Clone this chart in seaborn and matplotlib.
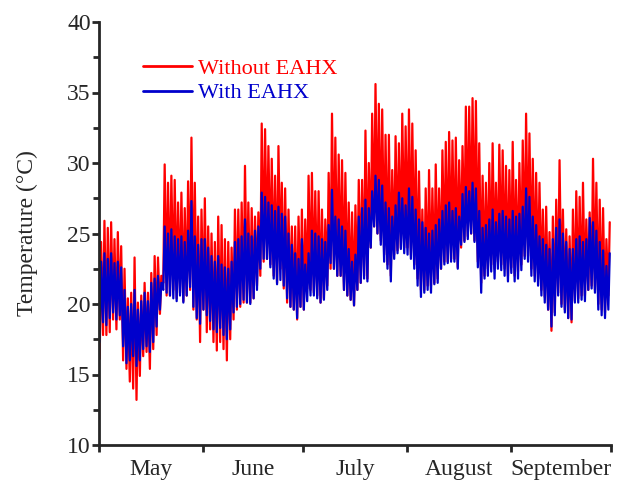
import numpy as np
import pandas as pd
import matplotlib
matplotlib.use("Agg")
import matplotlib.pyplot as plt
import seaborn as sns
from matplotlib.ticker import FixedLocator, MultipleLocator, NullFormatter, FixedFormatter

# ---- data (daily extremes, May 1 .. Sep 30) ----
months = ["May", "June", "July", "August", "September"]
month_days = [31, 30, 31, 31, 30]
series_names = ["Without EAHX", "With EAHX"]

red_max = [24.4, 25.9, 25.4, 25.8, 24.6, 25.1, 24.1, 22.5, 20.4, 20.8,
           23.3, 20.1, 20.6, 21.5, 20.8, 22.2, 23.4, 23.3, 22.0, 29.9,
           28.6, 29.1, 28.8, 27.2, 27.9, 26.8, 28.7, 31.8, 28.6, 26.2,
           26.7, 27.5, 25.5, 25.0, 24.4, 26.2, 25.6, 24.6, 24.4, 24.0,
           26.7, 26.7, 27.2, 29.8, 27.2, 26.8, 26.2, 26.5, 32.8, 32.4,
           31.2, 30.3, 29.1, 31.2, 28.6, 28.2, 26.7, 25.5, 25.5, 26.2,
           26.7, 26.0, 29.1, 29.3, 28.0, 28.0, 26.7, 26.0, 29.3, 33.5,
           31.8, 30.6, 30.2, 29.3, 27.2, 26.5, 27.0, 28.8, 28.8, 32.3,
           30.0, 33.5, 35.6, 34.2, 33.8, 32.0, 32.0, 29.5, 31.9, 31.4,
           33.5, 32.6, 33.8, 32.8, 30.9, 29.4, 26.7, 28.2, 29.5, 28.2,
           29.9, 28.2, 30.9, 31.5, 32.2, 31.6, 31.8, 30.2, 31.2, 34.0,
           34.0, 34.6, 34.4, 31.4, 29.1, 28.6, 30.0, 31.4, 28.6, 31.3,
           30.9, 29.8, 29.5, 31.5, 28.8, 30.0, 31.6, 33.5, 32.1, 30.3,
           29.3, 28.6, 26.7, 26.9, 25.1, 26.2, 27.4, 30.2, 26.7, 25.3,
           24.8, 26.7, 28.0, 27.6, 28.6, 26.0, 26.5, 30.3, 28.6, 27.4,
           26.8, 24.6, 25.8]
red_min = [16.1, 17.8, 17.8, 18.0, 18.9, 18.2, 18.9, 16.0, 15.4, 14.5,
           14.0, 13.2, 14.9, 16.3, 16.6, 15.4, 16.8, 17.8, 19.3, 21.5,
           20.6, 20.6, 21.0, 20.4, 20.8, 20.2, 20.6, 21.0, 19.6, 18.9,
           17.3, 19.6, 18.0, 18.2, 17.3, 16.7, 17.3, 16.8, 16.0, 17.5,
           18.9, 19.6, 19.8, 20.1, 20.1, 20.1, 20.4, 21.3, 22.0, 23.0,
           23.2, 22.8, 22.0, 21.5, 22.5, 21.1, 20.1, 19.8, 19.6, 18.9,
           19.8, 19.6, 21.1, 21.0, 20.8, 20.6, 20.1, 20.4, 21.3, 22.5,
           22.5, 22.0, 22.0, 21.0, 20.6, 20.3, 19.9, 21.0, 21.5, 22.0,
           21.8, 24.0, 25.5, 25.0, 24.5, 23.5, 22.8, 22.0, 23.5, 23.8,
           24.0, 24.0, 24.0, 23.5, 22.8, 21.8, 21.0, 21.0, 21.3, 21.3,
           21.5, 21.8, 22.5, 23.0, 23.0, 23.2, 23.2, 22.6, 24.0, 24.5,
           24.8, 25.0, 24.5, 23.0, 21.5, 22.0, 22.5, 22.8, 22.5, 23.0,
           22.8, 22.5, 22.0, 22.6, 22.0, 22.3, 22.8, 23.4, 23.4, 22.5,
           22.0, 21.8, 21.0, 20.5, 19.6, 18.1, 19.4, 20.8, 20.0, 19.6,
           19.0, 18.7, 20.2, 20.4, 20.6, 20.6, 21.0, 21.3, 21.0, 20.0,
           19.6, 19.4, 20.6]
blue_max = [23.0, 23.6, 23.2, 23.6, 22.9, 23.0, 22.6, 21.0, 19.8, 20.0,
            21.0, 19.6, 20.2, 20.8, 20.2, 21.5, 21.8, 22.0, 21.5, 25.5,
            25.0, 25.3, 24.8, 24.6, 24.8, 24.4, 25.2, 27.3, 24.8, 24.2,
            24.6, 24.6, 24.0, 23.4, 23.0, 23.4, 22.8, 22.6, 22.5, 23.0,
            24.4, 24.6, 24.8, 26.0, 25.0, 24.8, 25.2, 25.5, 27.9, 27.6,
            27.2, 27.0, 26.6, 26.9, 26.4, 26.2, 25.0, 24.2, 23.6, 23.2,
            24.6, 22.8, 23.6, 25.2, 25.0, 24.8, 24.6, 24.4, 25.6, 28.1,
            26.2, 26.0, 25.5, 25.2, 23.9, 23.0, 23.5, 26.2, 26.8, 27.4,
            26.8, 28.0, 29.1, 28.8, 28.4, 27.2, 26.8, 26.2, 27.0, 27.9,
            27.5, 27.0, 28.2, 27.6, 26.7, 26.0, 25.8, 25.4, 25.0, 25.2,
            25.6, 26.0, 26.6, 27.0, 27.2, 26.6, 26.8, 26.2, 27.8, 28.3,
            28.0, 28.6, 28.2, 26.6, 25.4, 25.6, 26.0, 26.7, 25.8, 26.4,
            26.6, 26.2, 26.0, 26.6, 26.2, 26.4, 26.9, 28.2, 27.6, 26.2,
            25.6, 24.8, 24.6, 24.2, 23.9, 24.6, 25.4, 26.0, 25.0, 24.4,
            23.9, 23.9, 24.6, 24.8, 24.4, 24.6, 26.1, 25.8, 25.2, 24.4,
            23.8, 22.7, 23.6]
blue_min = [17.3, 18.7, 18.5, 19.0, 19.4, 18.9, 19.2, 17.0, 15.8, 16.0,
            16.3, 15.6, 16.0, 16.8, 17.0, 16.6, 17.3, 18.4, 19.6, 21.0,
            20.8, 20.6, 20.4, 20.2, 20.6, 20.1, 20.6, 21.2, 19.8, 19.0,
            18.6, 19.6, 19.2, 18.8, 18.2, 18.0, 18.3, 17.8, 17.5, 18.2,
            19.4, 19.8, 20.0, 20.3, 20.1, 20.0, 20.4, 21.0, 22.5, 23.2,
            23.2, 22.6, 21.8, 21.4, 21.7, 21.3, 20.4, 19.8, 19.6, 19.0,
            19.8, 19.6, 20.2, 20.6, 20.6, 20.4, 20.1, 20.3, 21.0, 22.9,
            22.5, 22.0, 22.0, 21.0, 20.6, 20.3, 19.9, 21.0, 21.5, 21.8,
            21.6, 24.0, 25.5, 25.0, 24.2, 23.0, 22.5, 21.6, 23.2, 23.6,
            23.9, 23.6, 23.5, 23.2, 22.5, 21.3, 20.5, 20.8, 21.0, 20.8,
            21.4, 21.5, 22.5, 22.8, 22.9, 23.0, 23.0, 22.5, 24.2, 24.4,
            24.6, 25.0, 24.4, 22.6, 20.8, 21.8, 22.0, 22.3, 21.8, 22.5,
            22.4, 22.0, 21.6, 22.2, 21.6, 21.8, 22.4, 23.2, 23.0, 22.0,
            21.6, 21.3, 20.6, 20.1, 19.6, 18.4, 19.2, 20.6, 19.8, 19.4,
            19.0, 18.9, 20.1, 20.1, 20.3, 20.2, 21.0, 21.1, 20.8, 19.6,
            19.2, 19.0, 19.6]

# ---- build long table: daily minimum early morning, maximum afternoon ----
n_days = len(red_max)
day = np.arange(n_days)
t = np.column_stack([day + 5 / 24, day + 15 / 24]).ravel()
red = np.column_stack([red_min, red_max]).ravel()
blue = np.column_stack([blue_min, blue_max]).ravel()
df = pd.concat([
    pd.DataFrame({"t": t, "T": red, "series": series_names[0]}),
    pd.DataFrame({"t": t, "T": blue, "series": series_names[1]}),
], ignore_index=True)

sns.set_style("ticks")
plt.rcParams["font.family"] = ["Liberation Serif", "DejaVu Serif"]

fig = plt.figure(figsize=(6.22, 4.8), dpi=100)
ax = fig.add_axes([99 / 622, 1 - 445 / 480, 512 / 622, 423 / 480])

sns.lineplot(data=df, x="t", y="T", hue="series", hue_order=series_names,
             palette={"Without EAHX": "#FF0000", "With EAHX": "#0000CC"},
             sort=False, estimator=None, lw=1.6, ax=ax)

bounds = np.concatenate([[0], np.cumsum(month_days)])
mids = (bounds[:-1] + bounds[1:]) / 2
ax.set_xlim(bounds[0], bounds[-1])
ax.set_ylim(10, 40)
ax.xaxis.set_major_locator(FixedLocator(bounds))
ax.xaxis.set_major_formatter(NullFormatter())
ax.xaxis.set_minor_locator(FixedLocator(mids))
ax.xaxis.set_minor_formatter(FixedFormatter(months))
ax.yaxis.set_major_locator(MultipleLocator(5))
ax.yaxis.set_minor_locator(MultipleLocator(2.5))

ax.tick_params(axis="x", which="major", direction="out", length=5, width=2)
ax.tick_params(axis="x", which="minor", length=0, pad=10, labelsize=17)
ax.tick_params(axis="y", which="major", direction="out", length=5, width=2,
               labelsize=17, pad=1)
ax.tick_params(axis="y", which="minor", direction="out", length=4, width=2)

ax.set_xlabel("")
ax.set_ylabel("Temperature (°C)", fontsize=17, labelpad=21)

sns.despine(ax=ax)
for s in ("left", "bottom"):
    ax.spines[s].set_linewidth(2)

handles, labels = ax.get_legend_handles_labels()
leg = ax.legend(handles, labels, loc="upper left", bbox_to_anchor=(0.068, 0.935),
                frameon=False, labelcolor="linecolor", fontsize=16,
                handlelength=2.2, handletextpad=0.3, labelspacing=0.18,
                borderaxespad=0)
for h in leg.legend_handles:
    h.set_linewidth(2)

fig.savefig("out.png", dpi=100)
